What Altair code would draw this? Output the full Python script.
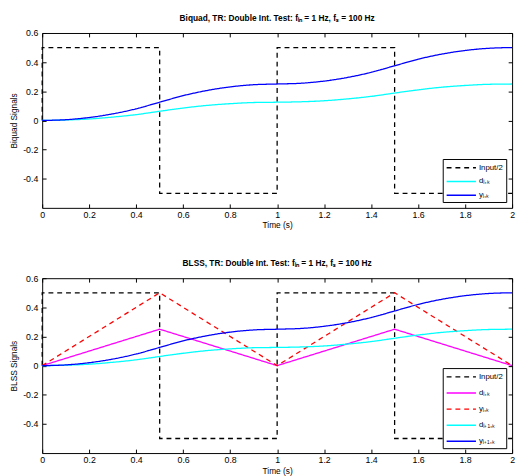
import altair as alt
import pandas as pd

# ---- data ----
T = [0.0, 0.1, 0.2, 0.3, 0.4, 0.5, 0.6, 0.7, 0.8, 0.9, 1.0,
     1.1, 1.2, 1.3, 1.4, 1.5, 1.6, 1.7, 1.8, 1.9, 2.0]
D_SMOOTH = [0, 0.003, 0.01, 0.023, 0.04, 0.063, 0.085, 0.103, 0.115, 0.123, 0.125,
            0.128, 0.135, 0.148, 0.165, 0.188, 0.21, 0.228, 0.24, 0.248, 0.25]
Y_SMOOTH = [0, 0.005, 0.02, 0.045, 0.08, 0.125, 0.17, 0.205, 0.23, 0.245, 0.25,
            0.255, 0.27, 0.295, 0.33, 0.375, 0.42, 0.455, 0.48, 0.495, 0.5]
T_TRI = [0, 0.5, 1.0, 1.5, 2.0]
D_TRI = [0, 0.25, 0, 0.25, 0]
Y_TRI = [0, 0.5, 0, 0.5, 0]
T_SQ = [0, 0, 0.5, 0.5, 1.0, 1.0, 1.5, 1.5, 2.0]
IN_SQ = [0, 0.5, 0.5, -0.5, -0.5, 0.5, 0.5, -0.5, -0.5]

X_TICKS = [0, 0.2, 0.4, 0.6, 0.8, 1.0, 1.2, 1.4, 1.6, 1.8, 2.0]
Y_TICKS = [-0.4, -0.2, 0, 0.2, 0.4, 0.6]

NAMES_TOP = ["Input/2", "dᵢ,ₖ", "yᵢ,ₖ"]
COLORS_TOP = ["#000000", "#00FFFF", "#0000FF"]
DASH_TOP = [[5, 4], [1, 0], [1, 0]]

NAMES_BOT = ["Input/2", "dᵢ,ₖ", "yᵢ,ₖ", "dᵢ₊₁,ₖ", "yᵢ₊₁,ₖ"]
COLORS_BOT = ["#000000", "#FF00FF", "#FF0000", "#00FFFF", "#0000FF"]
DASH_BOT = [[5, 4], [1, 0], [5, 4], [1, 0], [1, 0]]

TITLE_TOP = "Biquad, TR: Double Int. Test: fᵢₙ = 1 Hz, fₛ = 100 Hz"
TITLE_BOT = "BLSS, TR: Double Int. Test: fᵢₙ = 1 Hz, fₛ = 100 Hz"

FONT = "Liberation Sans"
W, H = 481, 179


def frame(name, ts, vs):
    return pd.DataFrame({"t": ts, "v": vs, "series": name, "i": list(range(len(ts)))})


XS = alt.Scale(domain=[0, 2], nice=False, zero=False)
YS = alt.Scale(domain=[-0.6, 0.6], nice=False, zero=False)
LBL = "'' + round(datum.value*10)/10"


def panel(title, ytitle, lin_parts, smooth_parts, names, colors, dashes, ly, rowpad):
    leg = alt.Legend(orient="none", legendX=410, legendY=ly, title=None,
                     symbolType="M-1,0H5", symbolSize=100, symbolStrokeWidth=1.5,
                     labelFont=FONT, labelFontSize=8, labelColor="black",
                     strokeColor="black", fillColor="white", padding=3,
                     cornerRadius=0, rowPadding=rowpad, labelOffset=22)
    color = alt.Color("series:N", scale=alt.Scale(domain=names, range=colors), legend=leg)
    dash = alt.StrokeDash("series:N", scale=alt.Scale(domain=names, range=dashes), legend=leg)
    x = alt.X("t:Q", scale=XS, axis=alt.Axis(values=X_TICKS, labelExpr=LBL, title="Time (s)",
                                             domain=False, tickSize=4, offset=-4, labelPadding=3,
                                             titlePadding=1.5, labelFlush=False, grid=False))
    y = alt.Y("v:Q", scale=YS, axis=alt.Axis(values=Y_TICKS, labelExpr=LBL, title=ytitle,
                                             domain=False, tickSize=4, offset=-4, labelPadding=4.5,
                                             titlePadding=4.5, grid=False))
    lin = alt.Chart(pd.concat(lin_parts)).mark_line(strokeWidth=1.3).encode(
        x=x, y=y, color=color, strokeDash=dash, order="i:Q")
    smo = alt.Chart(pd.concat(smooth_parts)).mark_line(strokeWidth=1.3, interpolate="monotone").encode(
        x=x, y=y, color=color, strokeDash=dash, order="i:Q")
    main = alt.layer(lin, smo)
    ticks = alt.Chart(pd.concat(lin_parts)).mark_line(opacity=0).encode(
        x=alt.X("t:Q", scale=XS, axis=alt.Axis(orient="top", values=X_TICKS, labels=False, title=None,
                                               domain=False, tickSize=4, offset=-4, grid=False)),
        y=alt.Y("v:Q", scale=YS, axis=alt.Axis(orient="right", values=Y_TICKS, labels=False, title=None,
                                               domain=False, tickSize=4, offset=-4, grid=False)))
    return alt.layer(main, ticks).resolve_scale(x="independent", y="independent").properties(
        width=W, height=H,
        title=alt.TitleParams(title, font=FONT, fontSize=8.5, fontWeight="bold", color="black",
                              anchor="middle", offset=6.5))


top = panel(TITLE_TOP, "Biquad Signals",
            [frame("Input/2", T_SQ, IN_SQ)],
            [frame("dᵢ,ₖ", T, D_SMOOTH), frame("yᵢ,ₖ", T, Y_SMOOTH)],
            NAMES_TOP, COLORS_TOP, DASH_TOP, 129, 4)

bot = panel(TITLE_BOT, "BLSS Signals",
            [frame("Input/2", T_SQ, IN_SQ), frame("dᵢ,ₖ", T_TRI, D_TRI), frame("yᵢ,ₖ", T_TRI, Y_TRI)],
            [frame("dᵢ₊₁,ₖ", T, D_SMOOTH), frame("yᵢ₊₁,ₖ", T, Y_SMOOTH)],
            NAMES_BOT, COLORS_BOT, DASH_BOT, 92, 6.5)

chart = alt.vconcat(top, bot, spacing=29).resolve_scale(
    color="independent", strokeDash="independent").resolve_legend(
    color="independent", strokeDash="independent").properties(
    padding={"left": 0, "top": 0, "right": 0, "bottom": 0}).configure_view(
    stroke="black", strokeWidth=1).configure_axis(
    labelFont=FONT, labelFontSize=9, labelColor="black", titleFont=FONT, titleFontSize=8.5,
    titleFontWeight="normal", titleColor="black", tickColor="black", tickWidth=1)

chart.save("out.html", embed_options={"renderer": "svg", "actions": False})
